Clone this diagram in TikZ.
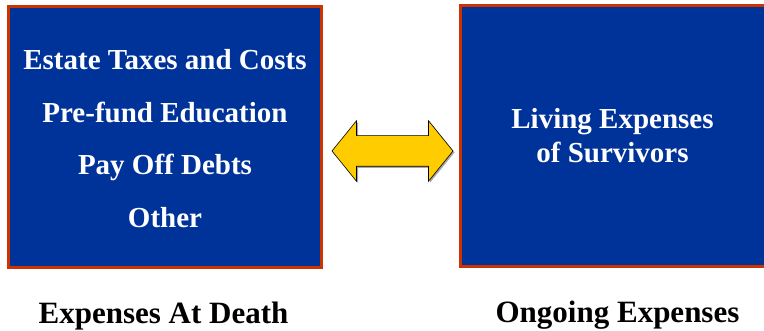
\documentclass[tikz,border=0pt]{standalone}
\usepackage{fontspec}
\setmainfont{Liberation Serif}
\usetikzlibrary{shapes.arrows,shadows}
\definecolor{boxblue}{HTML}{003399}
\definecolor{boxrim}{HTML}{CC3300}
\definecolor{arrowgold}{HTML}{FFCC00}
\tikzset{
  panel/.style={draw=boxrim, line width=3pt, fill=boxblue, inner sep=0pt},
  item/.style={anchor=base, text=white, font=\bfseries\fontsize{29}{34}\selectfont},
  caption/.style={anchor=base, font=\bfseries\fontsize{31}{36}\selectfont}
}
\begin{document}
\begin{tikzpicture}[x=1pt, y=-1pt]
	  \useasboundingbox (0,0) rectangle (764,331);

	  \node [panel, minimum width=313pt, minimum height=261pt] (death) at (165,137) {};
	  \node [panel, minimum width=310pt, minimum height=261pt] (ongoing) at (615.5,136) {};

	  \node [item] (estate) at (165,70) {Estate Taxes and Costs};
	  \node [item] (prefund) at (165,122.5) {Pre-fund Education};
	  \node [item] (debts) at (165,175) {Pay Off Debts};
	  \node [item] (other) at (165,227.5) {Other};

	  \node [item] (living) at (612.5,129) {Living Expenses};
	  \node [item] (survivors) at (612.5,163) {of Survivors};

	  \node [double arrow, draw=black, line width=0.6pt, fill=arrowgold,
	         minimum height=121pt, minimum width=60pt, inner xsep=0pt, inner ysep=15pt,
	         double arrow head extend=15pt, double arrow tip angle=102,
	         drop shadow={shadow xshift=1.5pt, shadow yshift=-1.5pt, fill=gray!70, opacity=1}]
	         (link) at (392.5,151) {};

	  \node [caption] (atdeath) at (163.5,324) {Expenses At Death};
	  \node [caption] (continuing) at (617.5,323) {Ongoing Expenses};
	\end{tikzpicture}
\end{document}
